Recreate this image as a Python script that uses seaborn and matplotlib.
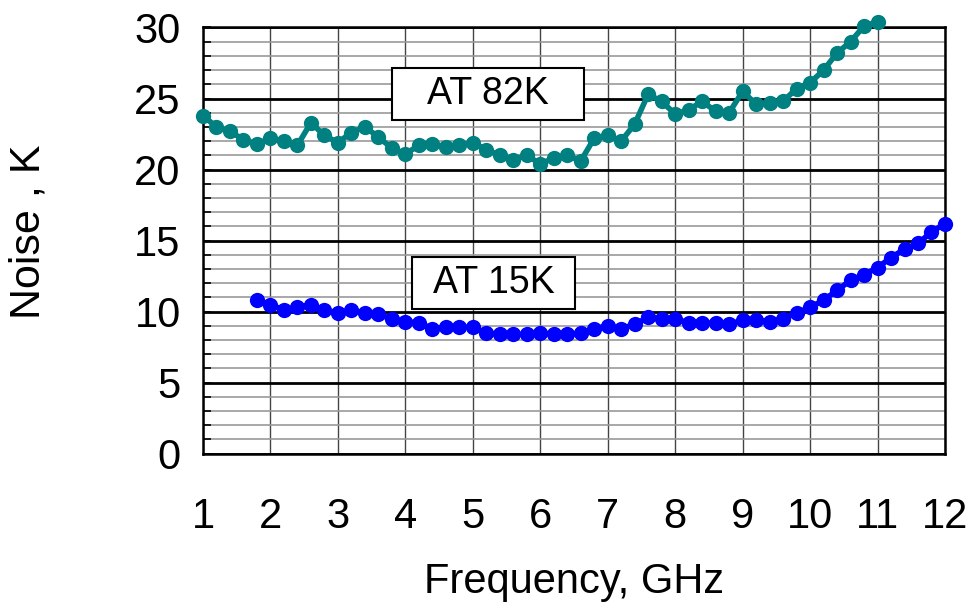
import matplotlib
matplotlib.use("Agg")
import matplotlib.pyplot as plt
import matplotlib.patches as mpatches
from matplotlib.ticker import MultipleLocator
import seaborn as sns
import pandas as pd

# ---- data ----
freq_82k = [1.0, 1.2, 1.4, 1.6, 1.8, 2.0, 2.2, 2.4, 2.6, 2.8,
            3.0, 3.2, 3.4, 3.6, 3.8, 4.0, 4.2, 4.4, 4.6, 4.8,
            5.0, 5.2, 5.4, 5.6, 5.8, 6.0, 6.2, 6.4, 6.6, 6.8,
            7.0, 7.2, 7.4, 7.6, 7.8, 8.0, 8.2, 8.4, 8.6, 8.8,
            9.0, 9.2, 9.4, 9.6, 9.8, 10.0, 10.2, 10.4, 10.6, 10.8, 11.0]
noise_82k = [23.8, 23.0, 22.7, 22.1, 21.8, 22.2, 22.0, 21.7, 23.3, 22.4,
             21.9, 22.6, 23.0, 22.3, 21.5, 21.1, 21.7, 21.8, 21.6, 21.7,
             21.9, 21.4, 21.0, 20.7, 21.0, 20.4, 20.8, 21.0, 20.6, 22.2,
             22.4, 22.0, 23.2, 25.3, 24.8, 23.9, 24.2, 24.8, 24.1, 24.0,
             25.5, 24.6, 24.7, 24.8, 25.7, 26.1, 27.0, 28.2, 29.0, 30.1, 30.4]

freq_15k = [1.8, 2.0, 2.2, 2.4, 2.6, 2.8,
            3.0, 3.2, 3.4, 3.6, 3.8, 4.0, 4.2, 4.4, 4.6, 4.8,
            5.0, 5.2, 5.4, 5.6, 5.8, 6.0, 6.2, 6.4, 6.6, 6.8,
            7.0, 7.2, 7.4, 7.6, 7.8, 8.0, 8.2, 8.4, 8.6, 8.8,
            9.0, 9.2, 9.4, 9.6, 9.8, 10.0, 10.2, 10.4, 10.6, 10.8,
            11.0, 11.2, 11.4, 11.6, 11.8, 12.0]
noise_15k = [10.8, 10.5, 10.1, 10.3, 10.5, 10.1,
             9.9, 10.1, 9.9, 9.8, 9.5, 9.3, 9.2, 8.8, 8.9, 8.9,
             8.9, 8.5, 8.4, 8.4, 8.4, 8.5, 8.4, 8.4, 8.5, 8.8,
             9.0, 8.8, 9.1, 9.6, 9.5, 9.5, 9.2, 9.2, 9.2, 9.1,
             9.4, 9.4, 9.3, 9.5, 9.9, 10.3, 10.8, 11.5, 12.2, 12.6,
             13.1, 13.8, 14.4, 14.8, 15.6, 16.2]

x_ticks = [1, 2, 3, 4, 5, 6, 7, 8, 9, 10, 11, 12]
y_ticks = [0, 5, 10, 15, 20, 25, 30]
label_82k = "AT 82K"
label_15k = "AT 15K"
x_title = "Frequency, GHz"
y_title = "Noise , K"

# ---- style ----
sns.set_style("white")
plt.rcParams["font.family"] = ["Liberation Sans", "DejaVu Sans"]
plt.rcParams["text.color"] = "black"
plt.rcParams["axes.labelcolor"] = "black"
plt.rcParams["xtick.color"] = "black"
plt.rcParams["ytick.color"] = "black"

fig = plt.figure(figsize=(9.72, 6.08), dpi=100)
ax = fig.add_axes([0.2088, 0.2538, 0.7634, 0.7010])

df82 = pd.DataFrame({"f": freq_82k, "n": noise_82k})
df15 = pd.DataFrame({"f": freq_15k, "n": noise_15k})

sns.lineplot(data=df82, x="f", y="n", ax=ax, color="#008080", linewidth=4.0,
             marker="o", markersize=11, markeredgewidth=0, clip_on=False, zorder=5)
sns.lineplot(data=df15, x="f", y="n", ax=ax, color="#0000FF", linewidth=4.0,
             marker="o", markersize=11, markeredgewidth=0, clip_on=False, zorder=5)

ax.set_xlim(1, 12)
ax.set_ylim(0, 30)
ax.set_xticks(x_ticks)
ax.set_xticklabels([str(t) for t in x_ticks])
ax.set_yticks(y_ticks)
ax.set_yticklabels([str(t) for t in y_ticks])
ax.yaxis.set_minor_locator(MultipleLocator(1))

ax.grid(which="major", axis="y", color="black", linewidth=2.0, zorder=1)
ax.grid(which="minor", axis="y", color="#999999", linewidth=1.2, zorder=0)
ax.grid(which="major", axis="x", color="#444444", linewidth=1.0, zorder=1)
ax.set_axisbelow(True)

ax.tick_params(axis="y", which="both", direction="in", length=6, width=1.2,
               color="black", labelsize=30, pad=16, left=True, labelcolor="black")
ax.tick_params(axis="x", which="both", length=0, labelsize=30, pad=31,
               labelcolor="black")

for s in ax.spines.values():
    s.set_visible(True)
    s.set_color("black")
    s.set_linewidth(1.8)

ax.set_xlabel(x_title, fontsize=30, color="black")
ax.set_ylabel(y_title, fontsize=31, color="black")
ax.xaxis.label.set_va("center")
ax.yaxis.label.set_va("center")
ax.xaxis.set_label_coords(0.5, -0.301)
ax.yaxis.set_label_coords(-0.2345, 0.52)

# annotation boxes
for (x0, x1, y0, y1, txt) in [(3.80, 6.65, 23.5, 27.16, label_82k),
                              (4.10, 6.52, 10.19, 13.85, label_15k)]:
    rect = mpatches.Rectangle((x0, y0), x1 - x0, y1 - y0, facecolor="white",
                              edgecolor="black", linewidth=1.5, zorder=6)
    ax.add_patch(rect)
    ax.text((x0 + x1) / 2, (y0 + y1) / 2, txt, ha="center", va="center",
            fontsize=27, color="black", zorder=7)

fig.savefig("out.png", dpi=100)
